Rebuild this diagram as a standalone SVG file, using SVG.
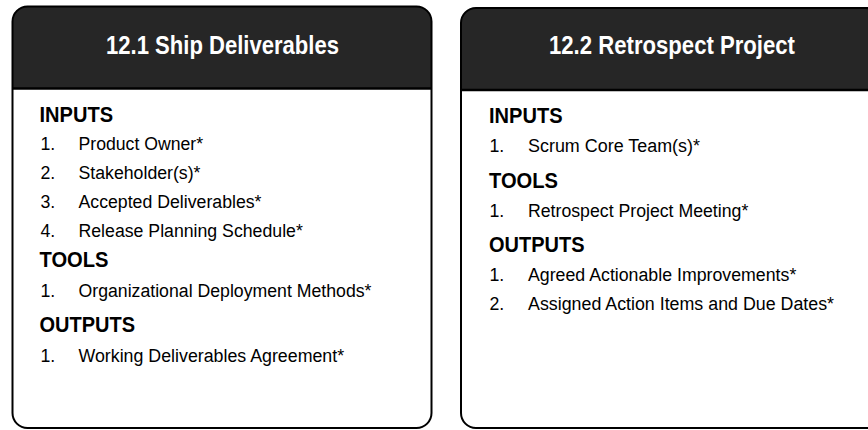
<svg xmlns="http://www.w3.org/2000/svg" width="868" height="430" viewBox="0 0 868 430">
<style>
.hdr{fill:#262626}
.box{fill:none;stroke:#000;stroke-width:2}
.sep{stroke:#000;stroke-width:2.5}
.title{font-family:"Liberation Sans",Arial,sans-serif;font-weight:bold;font-size:25px;fill:#fff}
.head{font-family:"Liberation Sans",Arial,sans-serif;font-weight:bold;font-size:21.5px;fill:#000}
.item{font-family:"Liberation Sans",Arial,sans-serif;font-size:18.8px;fill:#000}
</style>
<rect width="868" height="430" fill="#fff"/>
<g id="node-ship">
  <path class="hdr" d="M12.5,88.5 V21.5 A15,15 0 0 1 27.5,6.5 H416.5 A15,15 0 0 1 431.5,21.5 V88.5 Z"/>
  <line class="sep" x1="12.5" y1="88.5" x2="431.5" y2="88.5"/>
  <rect class="box" x="12.5" y="6.5" width="419" height="421.5" rx="15" ry="15"/>
  <text class="title" x="106" y="53.5" textLength="233" lengthAdjust="spacingAndGlyphs">12.1 Ship Deliverables</text>
  <text class="head" x="39.5" y="122" textLength="73.5" lengthAdjust="spacingAndGlyphs">INPUTS</text>
  <text class="item" x="40.5" y="150" textLength="14.8" lengthAdjust="spacingAndGlyphs">1.</text><text class="item" x="78.5" y="150" textLength="124.5" lengthAdjust="spacingAndGlyphs">Product Owner*</text>
  <text class="item" x="40.5" y="179" textLength="14.8" lengthAdjust="spacingAndGlyphs">2.</text><text class="item" x="78.5" y="179" textLength="122" lengthAdjust="spacingAndGlyphs">Stakeholder(s)*</text>
  <text class="item" x="40.5" y="207.5" textLength="14.8" lengthAdjust="spacingAndGlyphs">3.</text><text class="item" x="78.5" y="207.5" textLength="183" lengthAdjust="spacingAndGlyphs">Accepted Deliverables*</text>
  <text class="item" x="40.5" y="236.5" textLength="14.8" lengthAdjust="spacingAndGlyphs">4.</text><text class="item" x="78.5" y="236.5" textLength="224.3" lengthAdjust="spacingAndGlyphs">Release Planning Schedule*</text>
  <text class="head" x="39.5" y="267" textLength="69" lengthAdjust="spacingAndGlyphs">TOOLS</text>
  <text class="item" x="40.5" y="297" textLength="14.8" lengthAdjust="spacingAndGlyphs">1.</text><text class="item" x="78.5" y="297" textLength="293" lengthAdjust="spacingAndGlyphs">Organizational Deployment Methods*</text>
  <text class="head" x="39.5" y="332" textLength="95.5" lengthAdjust="spacingAndGlyphs">OUTPUTS</text>
  <text class="item" x="40.5" y="361.5" textLength="14.8" lengthAdjust="spacingAndGlyphs">1.</text><text class="item" x="78.5" y="361.5" textLength="265.6" lengthAdjust="spacingAndGlyphs">Working Deliverables Agreement*</text>
</g>
<g id="node-retrospect">
  <path class="hdr" d="M461,90 V23 A15,15 0 0 1 476,8 H866 A15,15 0 0 1 881,23 V90 Z"/>
  <line class="sep" x1="461" y1="90" x2="881" y2="90"/>
  <rect class="box" x="461" y="8" width="420" height="420" rx="15" ry="15"/>
  <text class="title" x="549" y="54" textLength="246" lengthAdjust="spacingAndGlyphs">12.2 Retrospect Project</text>
  <text class="head" x="489" y="123" textLength="73.5" lengthAdjust="spacingAndGlyphs">INPUTS</text>
  <text class="item" x="489.5" y="152" textLength="14.8" lengthAdjust="spacingAndGlyphs">1.</text><text class="item" x="528" y="152" textLength="172" lengthAdjust="spacingAndGlyphs">Scrum Core Team(s)*</text>
  <text class="head" x="489" y="188" textLength="69" lengthAdjust="spacingAndGlyphs">TOOLS</text>
  <text class="item" x="489.5" y="217" textLength="14.8" lengthAdjust="spacingAndGlyphs">1.</text><text class="item" x="528" y="217" textLength="220.3" lengthAdjust="spacingAndGlyphs">Retrospect Project Meeting*</text>
  <text class="head" x="489" y="252" textLength="95.5" lengthAdjust="spacingAndGlyphs">OUTPUTS</text>
  <text class="item" x="489.5" y="281" textLength="14.8" lengthAdjust="spacingAndGlyphs">1.</text><text class="item" x="528" y="281" textLength="268.3" lengthAdjust="spacingAndGlyphs">Agreed Actionable Improvements*</text>
  <text class="item" x="489.5" y="310" textLength="14.8" lengthAdjust="spacingAndGlyphs">2.</text><text class="item" x="528" y="310" textLength="306" lengthAdjust="spacingAndGlyphs">Assigned Action Items and Due Dates*</text>
</g>
<g id="connectors"/>
</svg>
